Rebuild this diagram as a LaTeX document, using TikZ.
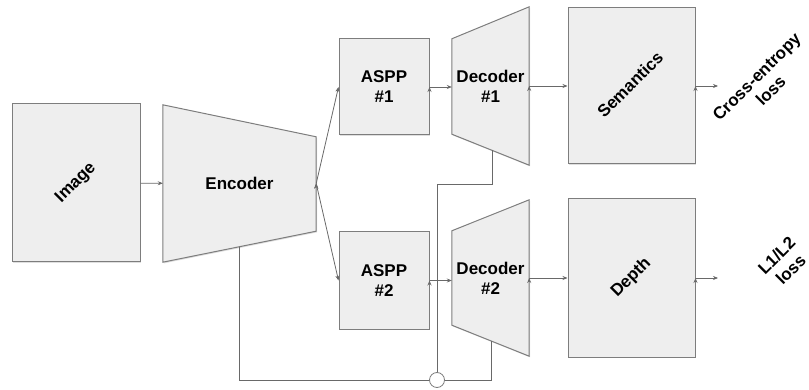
\documentclass[tikz,border=0pt]{standalone}
\usepackage{fontspec}
\setmainfont{Liberation Sans}
\usetikzlibrary{arrows.meta,shadows}
\definecolor{boxfill}{RGB}{238,238,238}
\definecolor{boxline}{RGB}{125,125,125}
\definecolor{wire}{RGB}{105,105,105}
\pgfdeclarelayer{background}
\pgfsetlayers{background,main}
\newcommand{\slanted}[1]{\rotatebox{45}{\begin{tabular}{@{}c@{}}#1\end{tabular}}}
\begin{document}
\begin{tikzpicture}[x=1pt,y=-1pt,>={Stealth[length=5pt,width=4pt]},font=\fontsize{17}{20}\selectfont\bfseries]
        \tikzstyle{block}=[draw=boxline,fill=boxfill,line width=1pt,align=center,inner sep=0pt,drop shadow={shadow xshift=1pt,shadow yshift=-1.2pt,opacity=0.25}]
        \tikzstyle{stage}=[align=center,inner sep=0pt]
        \tikzstyle{loss}=[inner sep=0pt]
        \tikzstyle{edge}=[draw=wire,line width=0.8pt,->]
        \tikzstyle{wire}=[draw=wire,line width=0.8pt]
        \tikzstyle{junction}=[circle,draw=boxline,fill=white,line width=0.8pt,minimum size=15pt,inner sep=0pt]
        \useasboundingbox (0,0) rectangle (809,390);
       \begin{scope}
         % boxes and stages
         \node [block,minimum width=128pt,minimum height=158pt] (img) at (76,183) {\slanted{Image}};
         \node [stage,minimum width=153pt,minimum height=157pt] (enc) at (239.5,183.5) {Encoder};
         \node [block,minimum width=90pt,minimum height=96pt] (aspp1) at (384,87) {ASPP\\\#1};
         \node [block,minimum width=90pt,minimum height=97pt] (aspp2) at (384,280.5) {ASPP\\\#2};
         \node [stage,minimum width=77pt,minimum height=158pt] (dec1) at (490.5,86) {Decoder\\\#1};
         \node [stage,minimum width=77pt,minimum height=156pt] (dec2) at (490.5,278) {Decoder\\\#2};
         \node [block,minimum width=127pt,minimum height=156pt] (sem) at (631.5,86) {\slanted{Semantics}};
         \node [block,minimum width=127pt,minimum height=158pt] (dep) at (631.5,278) {\slanted{Depth}};
         \node [loss] (celoss) at (765,85) {\slanted{Cross-entropy\\loss}};
         \node [loss] (l12loss) at (785,264) {\slanted{L1/L2\\loss}};
         \node [junction] (sum) at (437,380) {};
         \coordinate (semout) at (718,86);
         \coordinate (depout) at (718,278);
         \coordinate (d1tap) at (492,150);
         \coordinate (d2tap) at (491,341);
         \begin{pgfonlayer}{background}
           \draw [block] (enc.north west) -- ([yshift=-32pt]enc.north east) -- ([yshift=31pt]enc.south east) -- (enc.south west) -- cycle;
           \draw [block] ([yshift=-32pt]dec1.north west) -- (dec1.north east) -- (dec1.south east) -- ([yshift=31pt]dec1.south west) -- cycle;
           \draw [block] ([yshift=-31pt]dec2.north west) -- (dec2.north east) -- (dec2.south east) -- ([yshift=31pt]dec2.south west) -- cycle;
         \end{pgfonlayer}
         % arrows
         \path[edge] (img) edge (enc);
         \path[edge] (enc.east) edge (aspp1.west);
         \path[edge] (enc.east) edge (aspp2.west);
         \path[edge] (aspp1.east) edge (aspp1.east -| dec1.west);
         \path[edge] (aspp2.east) edge (aspp2.east -| dec2.west);
         \path[edge] (dec1.east) edge (sem.west);
         \path[edge] (dec2.east) edge (dep.west);
         \path[edge] (sem.east) edge (semout);
         \path[edge] (dep.east) edge (depout);
         % skip connections
         \draw[wire] (d1tap) -- ++(0,34) -| (sum.north);
         \draw[wire] ([yshift=15.5pt]enc.south) |- (sum.west);
         \draw[wire] (sum.east) -| (d2tap);
        \end{scope}
      \end{tikzpicture}
\end{document}
